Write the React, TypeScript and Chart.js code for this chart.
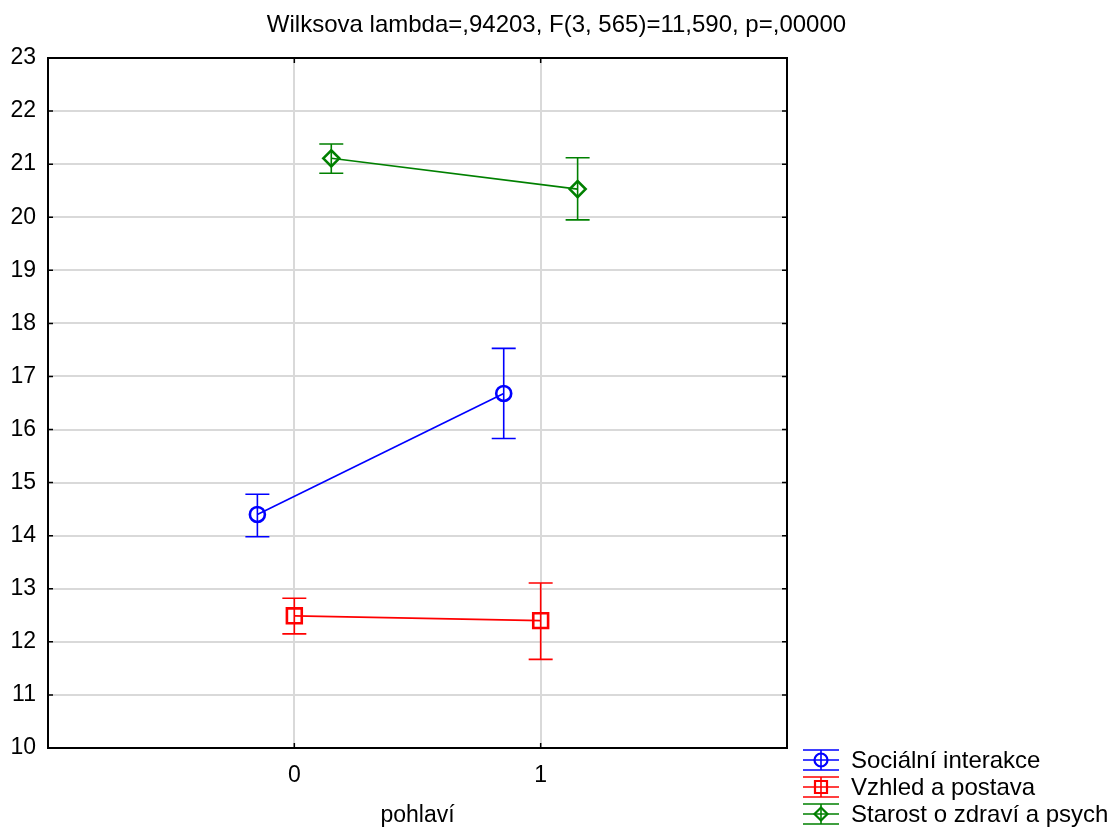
import React, { useEffect, useRef } from 'react';
import { Chart, registerables } from 'chart.js';

Chart.register(...registerables);

// ---- data ----
const categories = [0, 1];
const seriesNames = ['Sociální interakce', 'Vzhled a postava', 'Starost o zdraví a psych'];
const seriesColors = ['#0000ff', '#ff0000', '#008000'];
const seriesMarkers = ['circle', 'rect', 'rectRot'];
const seriesOffsets = [-0.15, 0, 0.15];

const socialMean = [14.40, 16.68];
const socialLow = [13.98, 15.83];
const socialHigh = [14.78, 17.53];

const vzhledMean = [12.49, 12.40];
const vzhledLow = [12.15, 11.67];
const vzhledHigh = [12.82, 13.11];

const starostMean = [21.11, 20.53];
const starostLow = [20.83, 19.95];
const starostHigh = [21.38, 21.12];

const yMin = 10;
const yMax = 23;
const xMin = -1;
const xMax = 2;
const xTickLabels = ['0', '1'];

const titleText = 'Wilksova lambda=,94203, F(3, 565)=11,590, p=,00000';
const xAxisTitle = 'pohlaví';

const FONT = '"Liberation Sans", Arial, Helvetica, sans-serif';

const means = [socialMean, vzhledMean, starostMean];
const lows = [socialLow, vzhledLow, starostLow];
const highs = [socialHigh, vzhledHigh, starostHigh];
const markerRadius = [7.5, 10.5, 8];

function drawMarker(ctx: CanvasRenderingContext2D, style: string, x: number, y: number, r: number) {
  ctx.beginPath();
  if (style === 'circle') {
    ctx.arc(x, y, r, 0, Math.PI * 2);
  } else if (style === 'rect') {
    const s = r;
    ctx.rect(x - s, y - s, 2 * s, 2 * s);
  } else {
    ctx.moveTo(x, y - r);
    ctx.lineTo(x + r, y);
    ctx.lineTo(x, y + r);
    ctx.lineTo(x - r, y);
    ctx.closePath();
  }
  ctx.stroke();
}

const errorBarPlugin = {
  id: 'errorBars',
  afterDatasetsDraw(chart: any) {
    const ctx = chart.ctx as CanvasRenderingContext2D;
    const xs = chart.scales.x;
    const ys = chart.scales.y;
    chart.data.datasets.forEach((ds: any) => {
      ctx.save();
      ctx.strokeStyle = ds.borderColor;
      ctx.lineWidth = 1.6;
      ds.data.forEach((pt: any, j: number) => {
        const px = xs.getPixelForValue(pt.x);
        const yl = ys.getPixelForValue(ds.errLow[j]);
        const yh = ys.getPixelForValue(ds.errHigh[j]);
        ctx.beginPath();
        ctx.moveTo(px, yh);
        ctx.lineTo(px, yl);
        ctx.moveTo(px - 12, yh);
        ctx.lineTo(px + 12, yh);
        ctx.moveTo(px - 12, yl);
        ctx.lineTo(px + 12, yl);
        ctx.stroke();
      });
      ctx.restore();
    });
  },
};

const framePlugin = {
  id: 'frameAndLegend',
  afterDraw(chart: any) {
    const ctx = chart.ctx as CanvasRenderingContext2D;
    const { left, right, top, bottom } = chart.chartArea;
    const xs = chart.scales.x;
    const ys = chart.scales.y;
    ctx.save();
    ctx.strokeStyle = '#000';
    ctx.lineWidth = 2;
    ctx.strokeRect(left, top, right - left, bottom - top);
    ctx.lineWidth = 1.5;
    ctx.beginPath();
    ys.ticks.forEach((t: any) => {
      const py = ys.getPixelForValue(t.value);
      ctx.moveTo(left, py);
      ctx.lineTo(left + 5, py);
      ctx.moveTo(right - 5, py);
      ctx.lineTo(right, py);
    });
    categories.forEach((c) => {
      const px = xs.getPixelForValue(c);
      ctx.moveTo(px, bottom);
      ctx.lineTo(px, bottom - 5);
      ctx.moveTo(px, top);
      ctx.lineTo(px, top + 5);
    });
    ctx.stroke();

    // legend
    const lx0 = 803;
    const lx1 = 839;
    const lcx = (lx0 + lx1) / 2;
    const rowY = [760, 787, 814];
    ctx.font = `24px ${FONT}`;
    ctx.textBaseline = 'middle';
    ctx.textAlign = 'left';
    seriesNames.forEach((name, i) => {
      const cy = rowY[i];
      ctx.strokeStyle = seriesColors[i];
      ctx.lineWidth = 1.6;
      ctx.beginPath();
      ctx.moveTo(lx0, cy - 10);
      ctx.lineTo(lx1, cy - 10);
      ctx.moveTo(lx0, cy);
      ctx.lineTo(lx1, cy);
      ctx.moveTo(lx0, cy + 10);
      ctx.lineTo(lx1, cy + 10);
      ctx.moveTo(lcx, cy - 10);
      ctx.lineTo(lcx, cy + 10);
      ctx.stroke();
      ctx.lineWidth = 2.2;
      drawMarker(ctx, seriesMarkers[i], lcx, cy, seriesMarkers[i] === 'rect' ? 6 : 6.5);
      ctx.fillStyle = '#000';
      ctx.fillText(name, 851, cy + 1);
    });
    ctx.restore();
  },
};

export default function App() {
  const canvasRef = useRef<HTMLCanvasElement | null>(null);

  useEffect(() => {
    if (!canvasRef.current) return;
    const datasets = seriesNames.map((name, i) => ({
      label: name,
      data: categories.map((c, j) => ({ x: c + seriesOffsets[i], y: means[i][j] })),
      errLow: lows[i],
      errHigh: highs[i],
      borderColor: seriesColors[i],
      backgroundColor: 'rgba(0,0,0,0)',
      borderWidth: 1.6,
      pointStyle: seriesMarkers[i],
      pointRadius: markerRadius[i],
      pointBorderWidth: 2.6,
      pointBorderColor: seriesColors[i],
      pointBackgroundColor: 'rgba(0,0,0,0)',
      showLine: true,
      tension: 0,
      fill: false,
    }));

    const chart = new Chart(canvasRef.current, {
      type: 'line',
      data: { datasets: datasets as any },
      plugins: [errorBarPlugin, framePlugin],
      options: {
        animation: false,
        responsive: true,
        maintainAspectRatio: false,
        devicePixelRatio: 1,
        layout: { padding: 0 },
        plugins: {
          legend: { display: false },
          tooltip: { enabled: false },
          title: {
            display: true,
            text: titleText,
            color: '#000',
            font: { family: FONT, size: 24, weight: 'normal' },
            padding: { top: 10.5, bottom: 18.7 },
          },
        },
        scales: {
          x: {
            type: 'linear',
            min: xMin,
            max: xMax,
            position: 'bottom',
            afterFit: (scale: any) => {
              scale.height = 79;
            },
            border: { display: false },
            grid: {
              drawTicks: false,
              lineWidth: 2,
              color: (c: any) =>
                c.tick && categories.includes(c.tick.value) ? '#d9d9d9' : 'rgba(0,0,0,0)',
            },
            ticks: {
              stepSize: 1,
              padding: 14,
              color: '#000',
              font: { family: FONT, size: 23 },
              maxRotation: 0,
              callback: (v: any) => {
                const idx = categories.indexOf(Number(v));
                return idx >= 0 ? xTickLabels[idx] : '';
              },
            },
            title: {
              display: true,
              text: xAxisTitle,
              color: '#000',
              font: { family: FONT, size: 23, lineHeight: 1.0 },
              padding: { top: 0, bottom: 0 },
            },
          },
          y: {
            type: 'linear',
            min: yMin,
            max: yMax,
            position: 'left',
            afterFit: (scale: any) => {
              scale.width = 48;
            },
            border: { display: false },
            grid: {
              drawTicks: false,
              lineWidth: 2,
              color: (c: any) =>
                c.tick && (c.tick.value === yMin || c.tick.value === yMax)
                  ? 'rgba(0,0,0,0)'
                  : '#d9d9d9',
            },
            ticks: {
              stepSize: 1,
              padding: 12,
              color: '#000',
              font: { family: FONT, size: 23 },
            },
          },
          yRight: {
            type: 'linear',
            position: 'right',
            min: 0,
            max: 1,
            afterFit: (scale: any) => {
              scale.width = 326;
            },
            border: { display: false },
            grid: { display: false, drawTicks: false },
            ticks: { display: false },
          },
        },
      } as any,
    });
    return () => chart.destroy();
  }, []);

  return (
    <div style={{ position: 'absolute', left: 0, top: 0, width: 1113, height: 827 }}>
      <canvas ref={canvasRef} />
    </div>
  );
}
